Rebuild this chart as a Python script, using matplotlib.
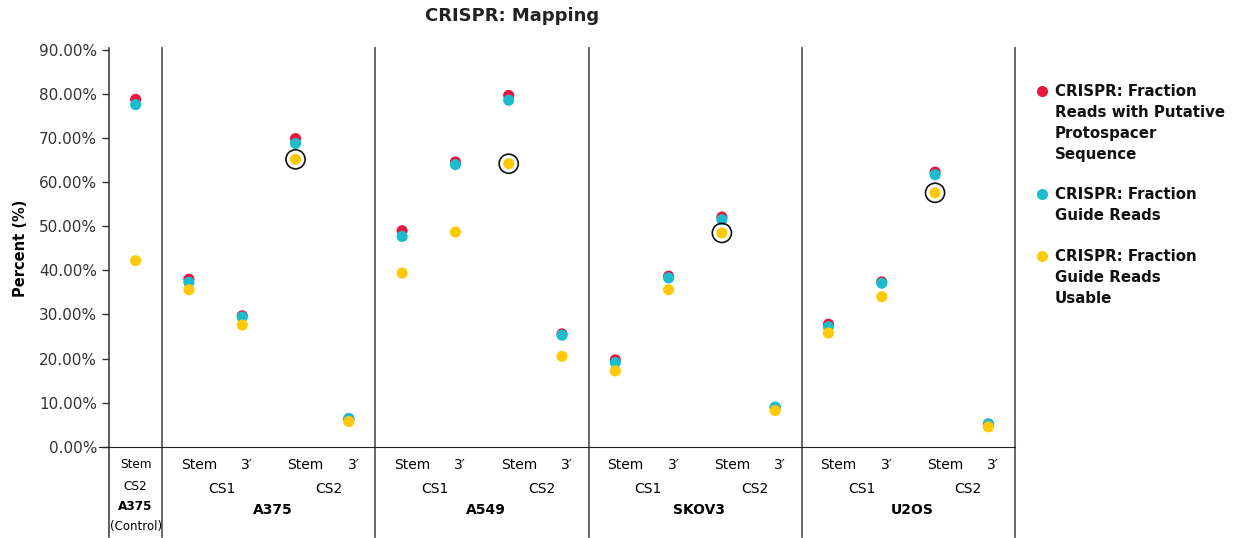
import matplotlib.pyplot as plt
from matplotlib.lines import Line2D
import numpy as np

# chart data, one value per column (control first, then 4 columns per cell line)
cell_lines = ['A375', 'A375', 'A375', 'A375', 'A375',
              'A549', 'A549', 'A549', 'A549',
              'SKOV3', 'SKOV3', 'SKOV3', 'SKOV3',
              'U2OS', 'U2OS', 'U2OS', 'U2OS']
is_control = [True] + [False] * 16
guides = ['Stem'] + ['Stem', '3\u2032', 'Stem', '3\u2032'] * 4
sites = ['CS2'] + ['CS1', 'CS1', 'CS2', 'CS2'] * 4

frac_putative = [78.8, 38.0, 29.7, 69.9, 6.3, 49.0, 64.6, 79.7, 25.6,
                 19.7, 38.7, 52.1, 8.9, 27.8, 37.4, 62.3, 5.1]
frac_guide = [77.6, 37.3, 29.4, 68.8, 6.4, 47.7, 64.0, 78.6, 25.3,
              19.1, 38.3, 51.5, 9.0, 27.2, 37.1, 61.7, 5.2]
frac_usable = [42.2, 35.6, 27.6, 65.2, 5.7, 39.4, 48.7, 64.2, 20.5,
               17.2, 35.6, 48.5, 8.2, 25.8, 34.0, 57.6, 4.5]

series_names = ['CRISPR: Fraction\nReads with Putative\nProtospacer\nSequence',
                'CRISPR: Fraction\nGuide Reads',
                'CRISPR: Fraction\nGuide Reads\nUsable']
colors = ['#E8173E', '#19BDCD', '#FFC907']


def main():
    plt.rcParams['font.family'] = 'DejaVu Sans'
    fig = plt.figure(figsize=(12.35, 5.38), dpi=100)
    ax = fig.add_axes([109 / 1235, 91.3 / 538, 906 / 1235, 396.7 / 538])

    x = np.arange(len(guides))
    for vals, col in zip([frac_putative, frac_guide, frac_usable], colors):
        ax.scatter(x, vals, s=64, color=col, edgecolors='none', zorder=3)

    # circle the Stem CS2 usable point of each non-control cell line
    hl = [i for i in x if guides[i] == 'Stem' and sites[i] == 'CS2'
          and not is_control[i]]
    ax.scatter(x[hl], np.array(frac_usable)[hl], s=190, facecolors='none',
               edgecolors='#111111', linewidths=1.2, zorder=4)

    ax.set_xlim(-0.5, len(x) - 0.5)
    ax.set_ylim(0, 90)
    ax.set_yticks(np.arange(0, 91, 10))
    ax.set_yticklabels(['%.2f%%' % v for v in np.arange(0, 91, 10)],
                       fontsize=11, color='#333333')
    ax.tick_params(axis='y', length=5, width=1, color='#333333')
    ax.set_xticks([])
    for s in ['top', 'right', 'left']:
        ax.spines[s].set_visible(False)
    ax.spines['bottom'].set_color('#222222')
    ax.spines['bottom'].set_bounds(-0.68, len(x) - 0.5)
    ax.set_ylabel('Percent (%)', fontsize=10.5, fontweight='bold', labelpad=8)

    # vertical separators reaching into the category area
    trans = ax.get_xaxis_transform()
    bottom = -0.228
    ax.plot([-0.5, -0.5], [1.005, bottom], transform=trans, clip_on=False,
            color='#333333', lw=1.1)
    bounds = [0.5, 4.5, 8.5, 12.5, 16.5]
    for b in bounds:
        ax.plot([b, b], [1.005, bottom], transform=trans, clip_on=False,
                color='#5a5a5a', lw=1.3)

    # category labels
    for i in x:
        if is_control[i]:
            ax.text(i, -0.046, guides[i], transform=trans, ha='center',
                    va='center', fontsize=8.7)
            ax.text(i, -0.101, sites[i], transform=trans, ha='center',
                    va='center', fontsize=8.7)
            ax.text(i, -0.152, cell_lines[i], transform=trans, ha='center',
                    va='center', fontsize=8.7, fontweight='bold')
            ax.text(i, -0.2, '(Control)', transform=trans, ha='center',
                    va='center', fontsize=8.5)
        else:
            off = 0.19 if guides[i] == 'Stem' else 0.09
            ax.text(i + off, -0.046, guides[i], transform=trans, ha='center',
                    va='center', fontsize=10)
    for g in range(4):
        start = 1 + 4 * g
        for p in range(2):
            a = start + 2 * p
            ax.text(a + 0.5 + 0.12, -0.107, sites[a], transform=trans,
                    ha='center', va='center', fontsize=10)
        ax.text(start + 1.5 + 0.08, -0.16, cell_lines[start], transform=trans,
                ha='center', va='center', fontsize=10, fontweight='bold')

    fig.text(512 / 1235, 1 - 16 / 538, 'CRISPR: Mapping', ha='center',
             va='center', fontsize=13, fontweight='bold', color='#222222')

    # legend, marker next to the first line of each entry
    tops = [91, 194, 256]
    for name, col, ty in zip(series_names, colors, tops):
        fig.add_artist(Line2D([1042 / 1235], [1 - ty / 538], marker='o',
                              markersize=8, color=col, linestyle='none',
                              markeredgewidth=0, transform=fig.transFigure))
        fig.text(1055 / 1235, 1 - (ty - 7) / 538, name, ha='left',
                 va='top', fontsize=10.8, fontweight='bold',
                 linespacing=1.5, color='#111111')

    plt.savefig('out.png', dpi=100)


if __name__ == "__main__":
    main()
